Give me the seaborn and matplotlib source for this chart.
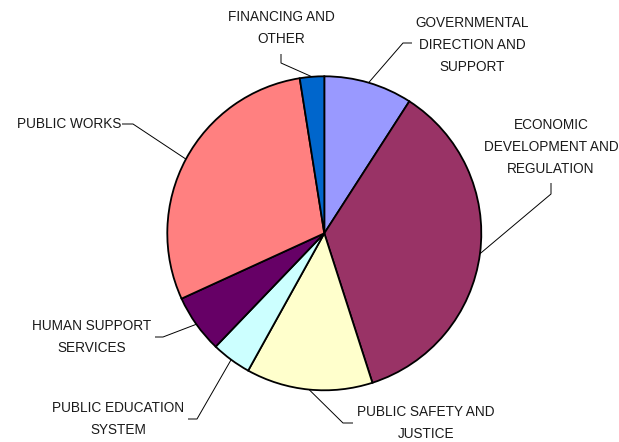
import numpy as np
import matplotlib
matplotlib.use("Agg")
import matplotlib.pyplot as plt
import seaborn as sns

# Budget shares by program area (percent), clockwise from 12 o'clock
categories = [
    "GOVERNMENTAL\nDIRECTION AND\nSUPPORT",
    "ECONOMIC\nDEVELOPMENT AND\nREGULATION",
    "PUBLIC SAFETY AND\nJUSTICE",
    "PUBLIC EDUCATION\nSYSTEM",
    "HUMAN SUPPORT\nSERVICES",
    "PUBLIC WORKS",
    "FINANCING AND\nOTHER",
]
shares = [9.1, 35.9, 13.0, 4.1, 6.0, 29.3, 2.5]
colors = ["#9999FF", "#993366", "#FFFFCC", "#CCFFFF", "#660066", "#FF8080", "#0066CC"]

sns.set_theme(style="white")
plt.rcParams["font.family"] = ["Liberation Sans", "DejaVu Sans"]

W, H = 619, 442
CX, CY, R = 324.3, 233.3, 157.0

fig = plt.figure(figsize=(W / 100, H / 100), dpi=100)
ax = fig.add_axes([0, 0, 1, 1])

wedges, _ = ax.pie(shares, colors=colors, startangle=90, counterclock=False,
                   radius=1.0, wedgeprops=dict(edgecolor="black", linewidth=1.3))

ax.set_xlim(-CX / R, (W - CX) / R)
ax.set_ylim((CY - H) / R, CY / R)
ax.set_aspect("equal")
ax.axis("off")


def px(x, y):
    """Pixel position in the figure -> data units around the pie centre."""
    return (x - CX) / R, (CY - y) / R


# Label layout: (text anchor, alignment, leader elbow, leader end) in pixels
layout = [
    ((472, 45), "center", (403, 43), (412, 43)),
    ((551, 147), "center", (551, 194), (551, 183)),
    ((426, 423), "center", (343, 423), (353, 423)),
    ((118, 419), "center", (197, 419), (188, 419)),
    ((92, 337), "center", (163, 337), (155, 337)),
    ((121, 124), "right", (133, 124), (122, 124)),
    ((281.5, 28), "center", (281, 63), (281, 54)),
]

for w, label, (tpos, ha, elbow, end) in zip(wedges, categories, layout):
    mid = np.deg2rad((w.theta1 + w.theta2) / 2)
    sx, sy = np.cos(mid), np.sin(mid)
    ex, ey = px(*elbow)
    nx, ny = px(*end)
    ax.plot([sx, ex, nx], [sy, ey, ny], color="black", linewidth=0.7,
            solid_capstyle="butt", zorder=1)
    tx, ty = px(*tpos)
    ax.text(tx, ty, label, ha=ha, va="center", multialignment="center",
            fontsize=9.8, linespacing=1.7, color="#1a1a1a")

fig.savefig("out.png", dpi=100)
